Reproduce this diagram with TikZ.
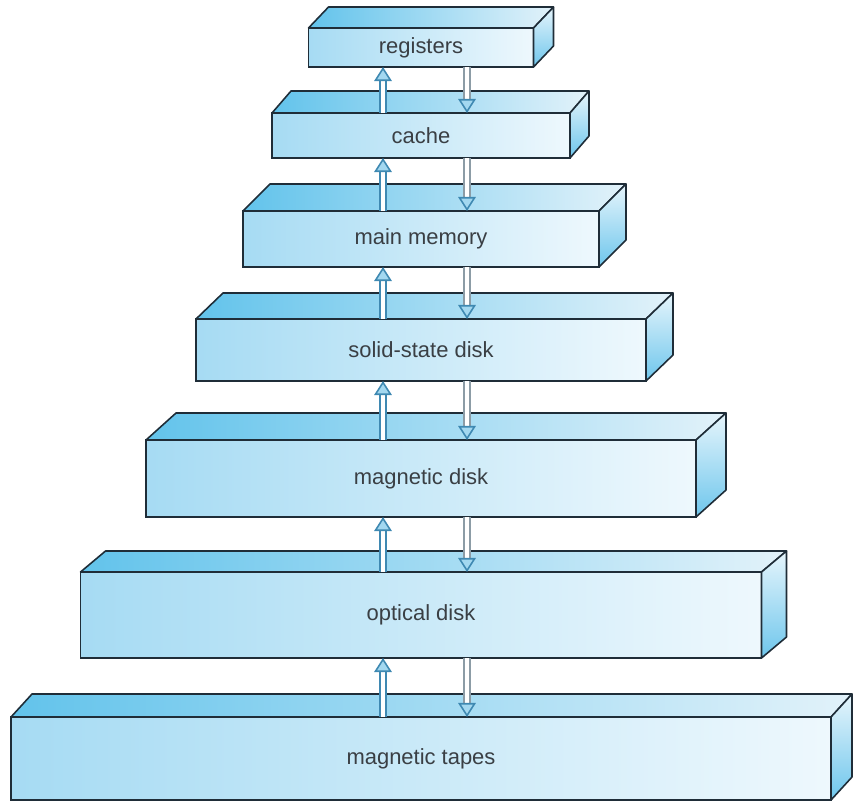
\documentclass[tikz,border=0pt]{standalone}
\usepackage{fontspec}
\setmainfont{Liberation Sans}
\usetikzlibrary{arrows.meta,calc}

\definecolor{edge}{HTML}{1F2D38}
\definecolor{frontleft}{HTML}{A6DBF3}
\definecolor{frontright}{HTML}{EEF8FD}
\definecolor{topleft}{HTML}{62C3EB}
\definecolor{topright}{HTML}{E2F2FA}
\definecolor{sidetop}{HTML}{E6F5FC}
\definecolor{sidebottom}{HTML}{6EC6EC}
\definecolor{labelgray}{HTML}{3A3F44}
\definecolor{arrblue}{HTML}{3F89B2}
\definecolor{arrgray}{HTML}{8C9CA6}
\definecolor{headblue}{HTML}{A3D8F0}

\begin{document}
\begin{tikzpicture}[x=0.02cm, y=-0.02cm,
    level/.style={draw=edge, line width=0.9pt, left color=frontleft, right color=frontright,
        inner sep=0pt, outer sep=0pt, text=labelgray, font=\fontsize{12.5}{14}\selectfont},
    topface/.style={draw=edge, line width=0.9pt, line join=round, left color=topleft, right color=topright},
    sideface/.style={draw=edge, line width=0.9pt, line join=round, top color=sidetop, bottom color=sidebottom},
    uparr/.style={draw=arrblue, line width=0.9pt, double=white, double distance=2.8pt,
        -{Triangle[width=10pt, length=8pt, fill=headblue, color=arrblue]}},
    dnarr/.style={draw=arrgray, line width=0.9pt, double=white, double distance=2.8pt,
        -{Triangle[width=10pt, length=8pt, fill=headblue, color=arrblue]}}]
    \useasboundingbox (0,0) rectangle (854,802);

    % The levels of the hierarchy: front face, top face, side face
    \foreach \name/\lbl/\cy/\w/\h/\dx/\dy in {
        reg/registers/47.5/225/39/20/-21,
        cache/cache/135.5/298/45/19/-22,
        mem/main memory/239/356/56/27/-27,
        ssd/solid-state disk/350/450/62/27/-26,
        hdd/magnetic disk/478.5/550/77/30/-27,
        opt/optical disk/615/681/86/25/-21,
        tape/magnetic tapes/758.5/820/83/21/-23}{
        \node[level, minimum width=\w*0.02cm, minimum height=\h*0.02cm] (\name) at (421,\cy) {\lbl};
        \draw[topface] (\name.north west) -- ++(\dx,\dy) -- ($(\name.north east)+(\dx,\dy)$)
            -- (\name.north east) -- cycle;
        \draw[sideface] (\name.north east) -- ++(\dx,\dy) -- ($(\name.south east)+(\dx,\dy)$)
            -- (\name.south east) -- cycle;
    }

    % Columns of the up and down arrows
    \coordinate (upx) at (383,0);
    \coordinate (dnx) at (467,0);

    % Transfers between neighbouring levels
    \foreach \upper/\lower in {reg/cache, cache/mem, mem/ssd, ssd/hdd, hdd/opt, opt/tape}{
        \draw[uparr] (\lower.north -| upx) -- (\upper.south -| upx);
        \draw[dnarr] (\upper.south -| dnx) -- (\lower.north -| dnx);
    }
\end{tikzpicture}
\end{document}
